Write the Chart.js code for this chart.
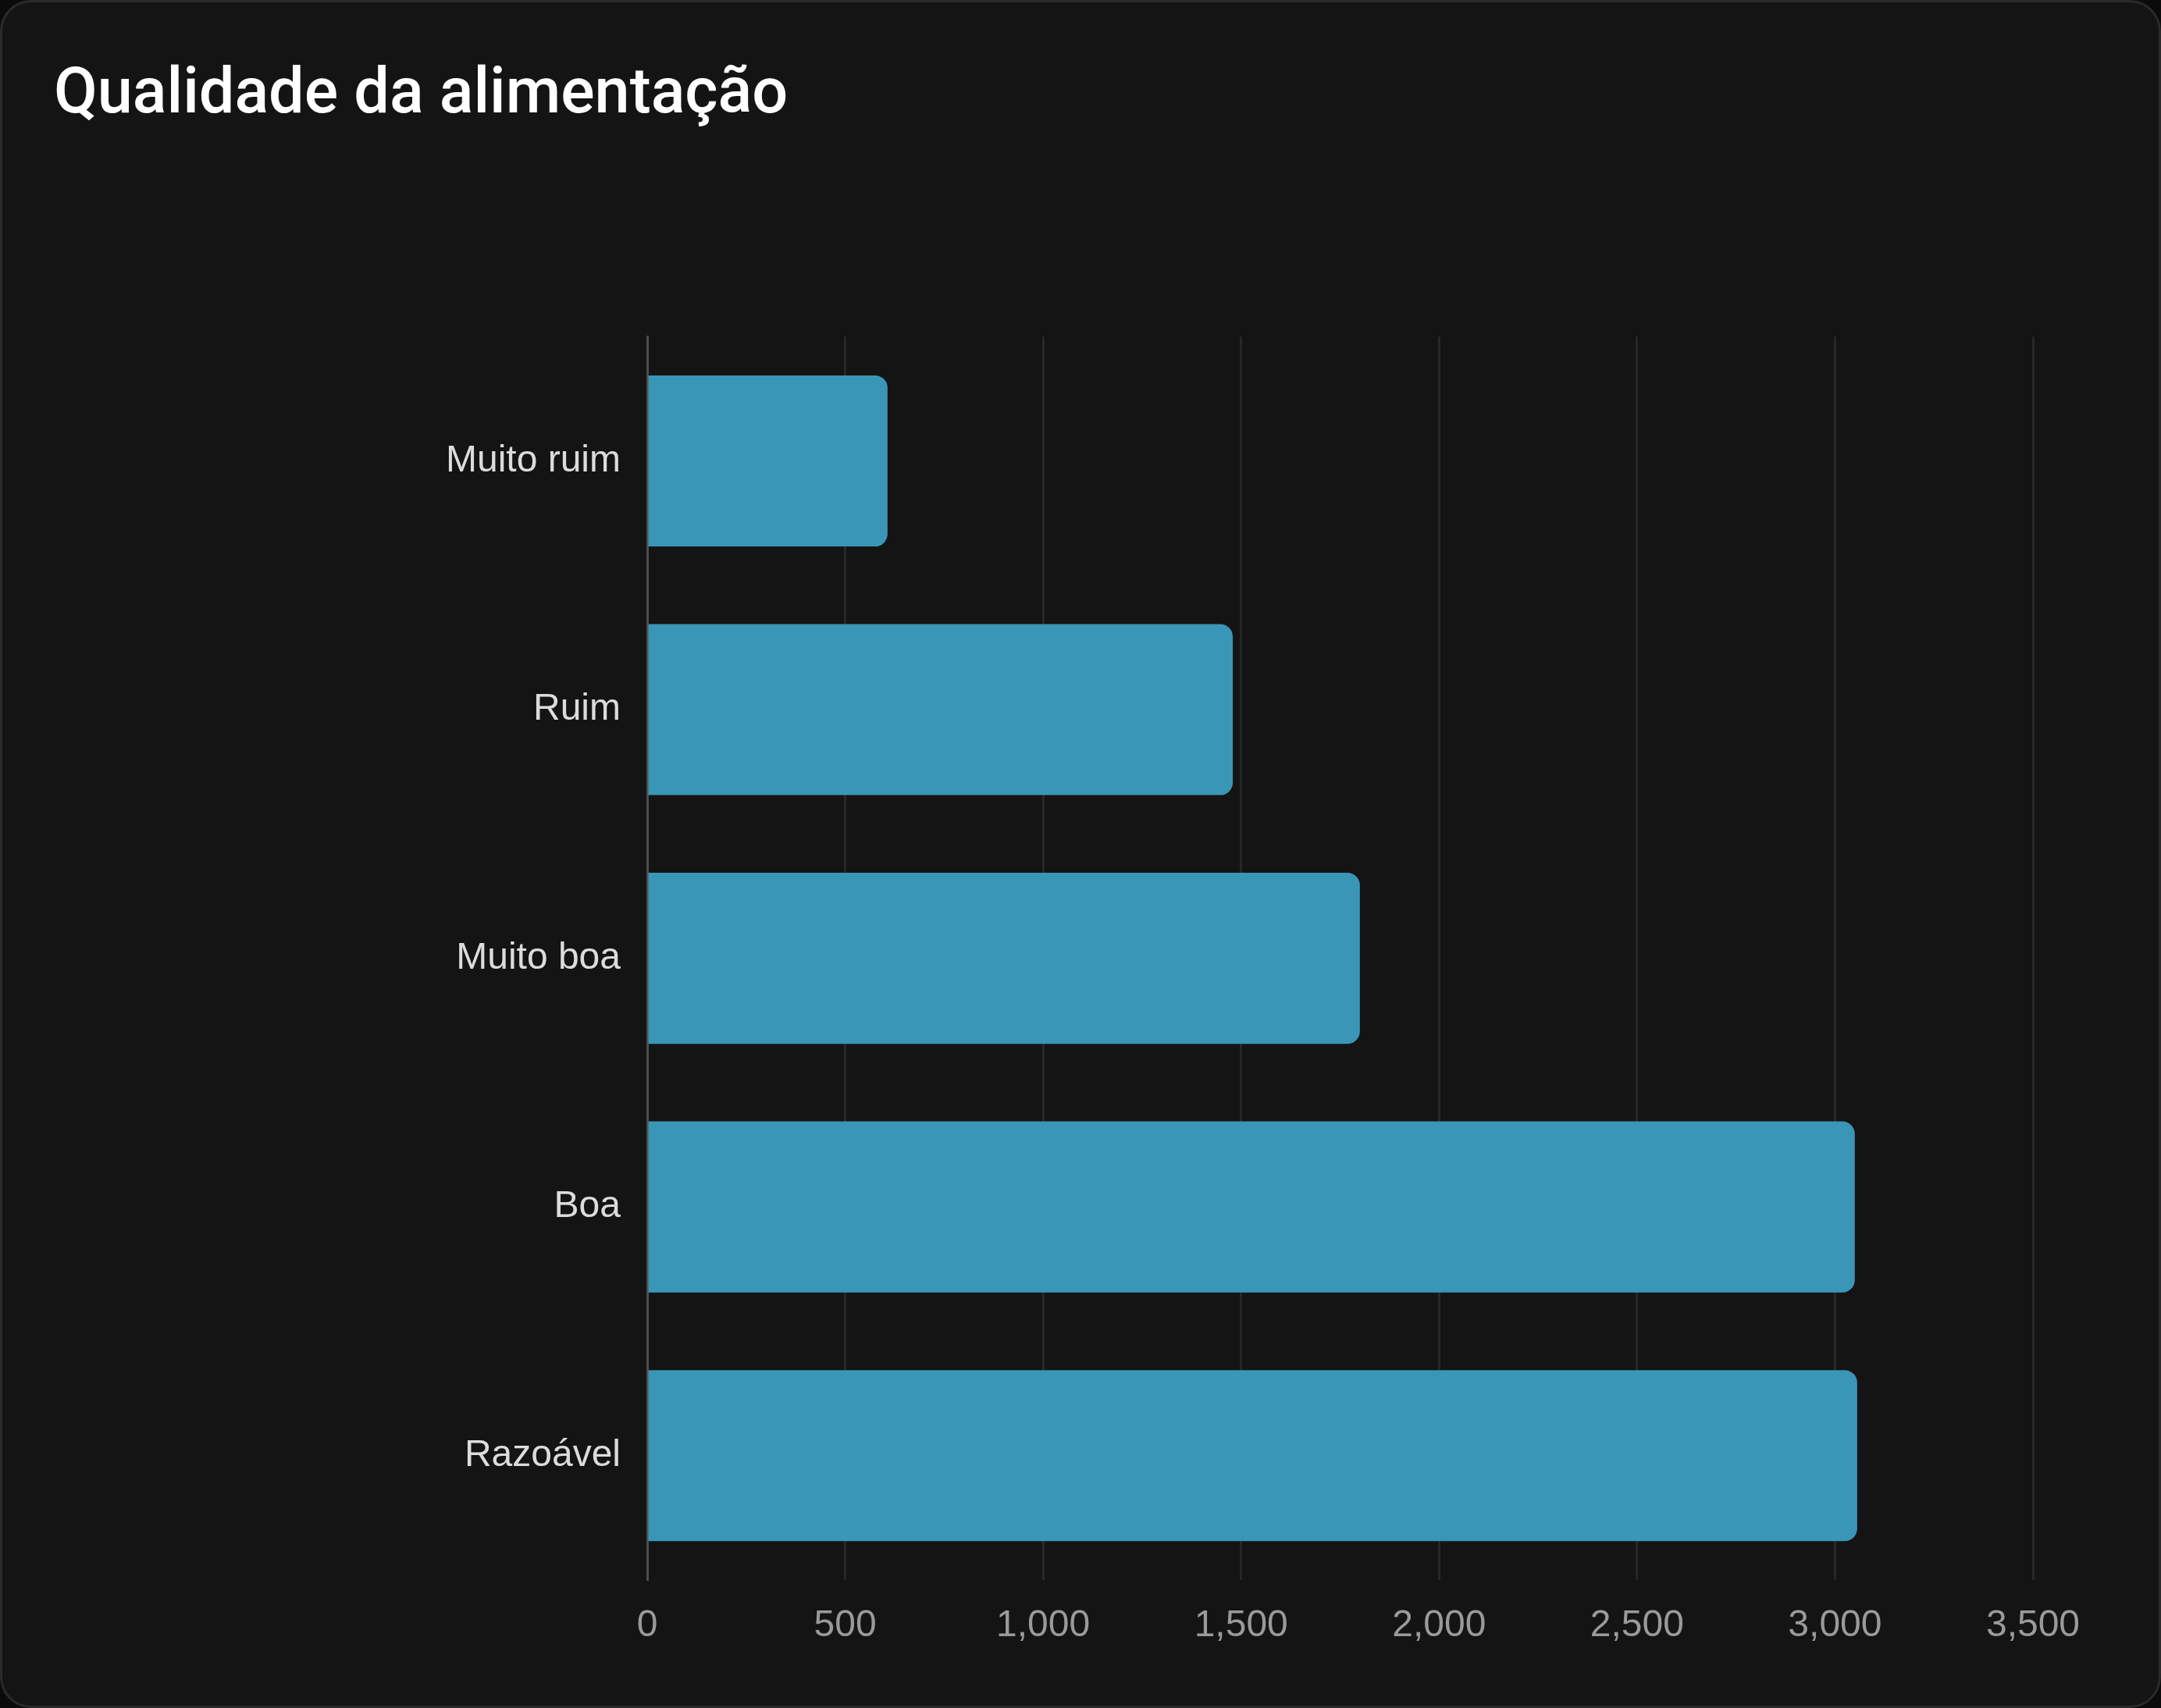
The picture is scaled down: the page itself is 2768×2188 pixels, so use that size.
<!DOCTYPE html>
<html>
<head>
<meta charset="utf-8">
<script src="https://cdn.jsdelivr.net/npm/chart.js@4.4.1/dist/chart.umd.min.js"></script>
<style>
  html, body { margin: 0; padding: 0; background: #0b0b0b; width: 2768px; height: 2188px; overflow: hidden; }
  #card { position: absolute; left: 0; top: 0; width: 2768px; height: 2188px; box-sizing: border-box;
          border: 3px solid #2a2a2a; border-radius: 40px; background: #141414; }
  #wrap { position: absolute; left: 0; top: 0; width: 2768px; height: 2188px; }
</style>
</head>
<body>
<div id="card"></div>
<div id="wrap"><canvas id="c" width="2768" height="2188"></canvas></div>
<script>
const chartTitle = "Qualidade da alimentação";
const categories = ["Muito ruim", "Ruim", "Muito boa", "Boa", "Razoável"];
const values = [607, 1479, 1800, 3050, 3056];
const xMin = 0;
const xMax = 3500;
const xStep = 500;

const ctx = document.getElementById('c').getContext('2d');
new Chart(ctx, {
  type: 'bar',
  data: {
    labels: categories,
    datasets: [{
      label: chartTitle,
      data: values,
      backgroundColor: '#3a96b7',
      borderWidth: 0,
      borderRadius: 16,
      borderSkipped: 'start',
      barPercentage: 0.86,
      categoryPercentage: 0.8
    }]
  },
  options: {
    indexAxis: 'y',
    responsive: false,
    devicePixelRatio: 1,
    animation: false,
    locale: 'en-US',
    layout: { padding: { left: 69, right: 164, top: 20, bottom: 0 } },
    plugins: {
      legend: { display: false },
      tooltip: { enabled: false },
      title: {
        display: true,
        text: chartTitle,
        align: 'start',
        color: '#ffffff',
        font: { family: 'Roboto', size: 81, weight: '500' },
        padding: { top: 55, bottom: 259 }
      }
    },
    scales: {
      x: {
        min: xMin,
        max: xMax,
        ticks: {
          stepSize: xStep,
          color: '#9a9a9a',
          font: { family: 'Liberation Sans', size: 48 },
          padding: 30
        },
        grid: { color: '#272727', lineWidth: 3, drawTicks: false },
        border: { display: false },
        afterFit: (s) => { s.height = 164; }
      },
      y: {
        ticks: {
          color: '#dcdcdc',
          font: { family: 'Liberation Sans', size: 48 },
          padding: 26
        },
        grid: { display: false },
        border: { display: true, color: '#4d4d4d', width: 3 },
        afterFit: (s) => { s.width = 760; }
      }
    }
  }
});
</script>
</body>
</html>
